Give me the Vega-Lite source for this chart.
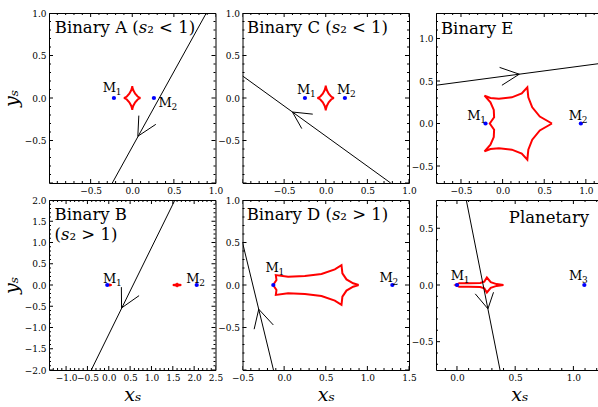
{
"$schema":"https://vega.github.io/schema/vega-lite/v6.json",
"padding":{"left":1,"top":8,"right":0,"bottom":0},
"background":"white",
"datasets":{"d":[
{"p":"A","k":"l","g":0,"o":0,"x":-0.24,"y":-1},{"p":"A","k":"l","g":0,"o":1,"x":0.89,"y":1},
{"p":"A","k":"l","g":1,"o":0,"x":0.079,"y":-0.207},{"p":"A","k":"l","g":1,"o":1,"x":0.067,"y":-0.45},{"p":"A","k":"l","g":1,"o":2,"x":0.283,"y":-0.31},
{"p":"A","k":"c","g":2,"o":0,"x":0.1,"y":0},{"p":"A","k":"c","g":2,"o":1,"x":0.09,"y":0.0024},{"p":"A","k":"c","g":2,"o":2,"x":0.065,"y":0.0175},{"p":"A","k":"c","g":2,"o":3,"x":0.0354,"y":0.0496},{"p":"A","k":"c","g":2,"o":4,"x":0.0125,"y":0.091},{"p":"A","k":"c","g":2,"o":5,"x":0.0017,"y":0.126},{"p":"A","k":"c","g":2,"o":6,"x":0,"y":0.14},{"p":"A","k":"c","g":2,"o":7,"x":-0.0017,"y":0.126},{"p":"A","k":"c","g":2,"o":8,"x":-0.0125,"y":0.091},{"p":"A","k":"c","g":2,"o":9,"x":-0.0354,"y":0.0496},{"p":"A","k":"c","g":2,"o":10,"x":-0.065,"y":0.0175},{"p":"A","k":"c","g":2,"o":11,"x":-0.09,"y":0.0024},{"p":"A","k":"c","g":2,"o":12,"x":-0.1,"y":0},{"p":"A","k":"c","g":2,"o":13,"x":-0.09,"y":-0.0024},{"p":"A","k":"c","g":2,"o":14,"x":-0.065,"y":-0.0175},{"p":"A","k":"c","g":2,"o":15,"x":-0.0354,"y":-0.0496},{"p":"A","k":"c","g":2,"o":16,"x":-0.0125,"y":-0.091},{"p":"A","k":"c","g":2,"o":17,"x":-0.0017,"y":-0.126},{"p":"A","k":"c","g":2,"o":18,"x":0,"y":-0.14},{"p":"A","k":"c","g":2,"o":19,"x":0.0017,"y":-0.126},{"p":"A","k":"c","g":2,"o":20,"x":0.0125,"y":-0.091},{"p":"A","k":"c","g":2,"o":21,"x":0.0354,"y":-0.0496},{"p":"A","k":"c","g":2,"o":22,"x":0.065,"y":-0.0175},{"p":"A","k":"c","g":2,"o":23,"x":0.09,"y":-0.0024},{"p":"A","k":"c","g":2,"o":24,"x":0.1,"y":0},
{"p":"A","k":"m","x":-0.22,"y":0},{"p":"A","k":"m","x":0.26,"y":0},
{"p":"A","k":"t","x":-0.354,"y":0.065,"t":"M","n":"1"},{"p":"A","k":"t","x":0.316,"y":-0.1,"t":"M","n":"2"},
{"p":"A","k":"h","x":-0.93,"y":0.76,"t":"Binary A (𝑠₂ < 1)"},

{"p":"C","k":"l","g":0,"o":0,"x":-1,"y":0.26},{"p":"C","k":"l","g":0,"o":1,"x":0.78,"y":-1},
{"p":"C","k":"l","g":1,"o":0,"x":-0.156,"y":-0.19},{"p":"C","k":"l","g":1,"o":1,"x":-0.4,"y":-0.165},{"p":"C","k":"l","g":1,"o":2,"x":-0.288,"y":-0.36},
{"p":"C","k":"c","g":2,"o":0,"x":0.1,"y":0},{"p":"C","k":"c","g":2,"o":1,"x":0.09,"y":0.0025},{"p":"C","k":"c","g":2,"o":2,"x":0.065,"y":0.018},{"p":"C","k":"c","g":2,"o":3,"x":0.0354,"y":0.0513},{"p":"C","k":"c","g":2,"o":4,"x":0.0125,"y":0.094},{"p":"C","k":"c","g":2,"o":5,"x":0.0017,"y":0.131},{"p":"C","k":"c","g":2,"o":6,"x":0,"y":0.145},{"p":"C","k":"c","g":2,"o":7,"x":-0.0017,"y":0.131},{"p":"C","k":"c","g":2,"o":8,"x":-0.0125,"y":0.094},{"p":"C","k":"c","g":2,"o":9,"x":-0.0354,"y":0.0513},{"p":"C","k":"c","g":2,"o":10,"x":-0.065,"y":0.018},{"p":"C","k":"c","g":2,"o":11,"x":-0.09,"y":0.0025},{"p":"C","k":"c","g":2,"o":12,"x":-0.1,"y":0},{"p":"C","k":"c","g":2,"o":13,"x":-0.09,"y":-0.0025},{"p":"C","k":"c","g":2,"o":14,"x":-0.065,"y":-0.018},{"p":"C","k":"c","g":2,"o":15,"x":-0.0354,"y":-0.0513},{"p":"C","k":"c","g":2,"o":16,"x":-0.0125,"y":-0.094},{"p":"C","k":"c","g":2,"o":17,"x":-0.0017,"y":-0.131},{"p":"C","k":"c","g":2,"o":18,"x":0,"y":-0.145},{"p":"C","k":"c","g":2,"o":19,"x":0.0017,"y":-0.131},{"p":"C","k":"c","g":2,"o":20,"x":0.0125,"y":-0.094},{"p":"C","k":"c","g":2,"o":21,"x":0.0354,"y":-0.0513},{"p":"C","k":"c","g":2,"o":22,"x":0.065,"y":-0.018},{"p":"C","k":"c","g":2,"o":23,"x":0.09,"y":-0.0025},{"p":"C","k":"c","g":2,"o":24,"x":0.1,"y":0},
{"p":"C","k":"m","x":-0.25,"y":0},{"p":"C","k":"m","x":0.23,"y":0},
{"p":"C","k":"t","x":-0.344,"y":0.05,"t":"M","n":"1"},{"p":"C","k":"t","x":0.136,"y":0.05,"t":"M","n":"2"},
{"p":"C","k":"h","x":-0.945,"y":0.76,"t":"Binary C (𝑠₂ < 1)"},

{"p":"E","k":"l","g":0,"o":0,"x":-0.8,"y":0.45},{"p":"E","k":"l","g":0,"o":1,"x":1.2,"y":0.71},
{"p":"E","k":"l","g":1,"o":0,"x":-0.036,"y":0.66},{"p":"E","k":"l","g":1,"o":1,"x":0.2,"y":0.58},{"p":"E","k":"l","g":1,"o":2,"x":-0.008,"y":0.45},
{"p":"E","k":"c","g":2,"o":0,"x":0.593,"y":0},{"p":"E","k":"c","g":2,"o":1,"x":0.447,"y":0.082},{"p":"E","k":"c","g":2,"o":2,"x":0.356,"y":0.191},{"p":"E","k":"c","g":2,"o":3,"x":0.309,"y":0.308},{"p":"E","k":"c","g":2,"o":4,"x":0.297,"y":0.426},{"p":"E","k":"c","g":2,"o":5,"x":0.23,"y":0.355},{"p":"E","k":"c","g":2,"o":6,"x":0.111,"y":0.308},{"p":"E","k":"c","g":2,"o":7,"x":-0.044,"y":0.29},{"p":"E","k":"c","g":2,"o":8,"x":-0.146,"y":0.3},{"p":"E","k":"c","g":2,"o":9,"x":-0.217,"y":0.328},{"p":"E","k":"c","g":2,"o":10,"x":-0.146,"y":0.25},{"p":"E","k":"c","g":2,"o":11,"x":-0.106,"y":0.16},{"p":"E","k":"c","g":2,"o":12,"x":-0.102,"y":0.074},{"p":"E","k":"c","g":2,"o":13,"x":-0.154,"y":0},{"p":"E","k":"c","g":2,"o":14,"x":-0.102,"y":-0.074},{"p":"E","k":"c","g":2,"o":15,"x":-0.106,"y":-0.16},{"p":"E","k":"c","g":2,"o":16,"x":-0.146,"y":-0.25},{"p":"E","k":"c","g":2,"o":17,"x":-0.217,"y":-0.328},{"p":"E","k":"c","g":2,"o":18,"x":-0.146,"y":-0.3},{"p":"E","k":"c","g":2,"o":19,"x":-0.044,"y":-0.29},{"p":"E","k":"c","g":2,"o":20,"x":0.111,"y":-0.308},{"p":"E","k":"c","g":2,"o":21,"x":0.23,"y":-0.355},{"p":"E","k":"c","g":2,"o":22,"x":0.297,"y":-0.426},{"p":"E","k":"c","g":2,"o":23,"x":0.309,"y":-0.308},{"p":"E","k":"c","g":2,"o":24,"x":0.356,"y":-0.191},{"p":"E","k":"c","g":2,"o":25,"x":0.447,"y":-0.082},{"p":"E","k":"c","g":2,"o":26,"x":0.593,"y":0},
{"p":"E","k":"m","x":-0.205,"y":0},{"p":"E","k":"m","x":0.94,"y":0},
{"p":"E","k":"t","x":-0.424,"y":0.043,"t":"M","n":"1"},{"p":"E","k":"t","x":0.796,"y":0.043,"t":"M","n":"2"},
{"p":"E","k":"h","x":-0.74,"y":1.05,"t":"Binary E"},

{"p":"B","k":"l","g":0,"o":0,"x":-0.41,"y":-2},{"p":"B","k":"l","g":0,"o":1,"x":1.55,"y":2},
{"p":"B","k":"l","g":1,"o":0,"x":0.295,"y":-0.05},{"p":"B","k":"l","g":1,"o":1,"x":0.3,"y":-0.54},{"p":"B","k":"l","g":1,"o":2,"x":0.71,"y":-0.25},
{"p":"B","k":"c","g":2,"o":0,"x":1.7,"y":0},{"p":"B","k":"c","g":2,"o":1,"x":1.665,"y":0.0038},{"p":"B","k":"c","g":2,"o":2,"x":1.6125,"y":0.0195},{"p":"B","k":"c","g":2,"o":3,"x":1.6,"y":0.03},{"p":"B","k":"c","g":2,"o":4,"x":1.5875,"y":0.0195},{"p":"B","k":"c","g":2,"o":5,"x":1.535,"y":0.0038},{"p":"B","k":"c","g":2,"o":6,"x":1.5,"y":0},{"p":"B","k":"c","g":2,"o":7,"x":1.535,"y":-0.0038},{"p":"B","k":"c","g":2,"o":8,"x":1.5875,"y":-0.0195},{"p":"B","k":"c","g":2,"o":9,"x":1.6,"y":-0.03},{"p":"B","k":"c","g":2,"o":10,"x":1.6125,"y":-0.0195},{"p":"B","k":"c","g":2,"o":11,"x":1.665,"y":-0.0038},{"p":"B","k":"c","g":2,"o":12,"x":1.7,"y":0},
{"p":"B","k":"c","g":3,"o":0,"x":0.07,"y":0},{"p":"B","k":"c","g":3,"o":1,"x":0.051,"y":0.0015},{"p":"B","k":"c","g":3,"o":2,"x":0.03,"y":0.0078},{"p":"B","k":"c","g":3,"o":3,"x":0.025,"y":0.012},{"p":"B","k":"c","g":3,"o":4,"x":0.02,"y":0.0078},{"p":"B","k":"c","g":3,"o":5,"x":-0.001,"y":0.0015},{"p":"B","k":"c","g":3,"o":6,"x":-0.02,"y":0},{"p":"B","k":"c","g":3,"o":7,"x":-0.001,"y":-0.0015},{"p":"B","k":"c","g":3,"o":8,"x":0.02,"y":-0.0078},{"p":"B","k":"c","g":3,"o":9,"x":0.025,"y":-0.012},{"p":"B","k":"c","g":3,"o":10,"x":0.03,"y":-0.0078},{"p":"B","k":"c","g":3,"o":11,"x":0.051,"y":-0.0015},{"p":"B","k":"c","g":3,"o":12,"x":0.07,"y":0},
{"p":"B","k":"m","x":-0.035,"y":0},{"p":"B","k":"m","x":2.06,"y":0},
{"p":"B","k":"t","x":-0.137,"y":0.05,"t":"M","n":"1"},{"p":"B","k":"t","x":1.813,"y":0.05,"t":"M","n":"2"},
{"p":"B","k":"h","x":-1.27,"y":1.52,"t":"Binary B"},{"p":"B","k":"h","x":-1.27,"y":1.05,"t":"(𝑠₂ > 1)"},

{"p":"D","k":"l","g":0,"o":0,"x":-0.5,"y":0.5},{"p":"D","k":"l","g":0,"o":1,"x":-0.128,"y":-1},
{"p":"D","k":"l","g":1,"o":0,"x":-0.36,"y":-0.52},{"p":"D","k":"l","g":1,"o":1,"x":-0.305,"y":-0.285},{"p":"D","k":"l","g":1,"o":2,"x":-0.13,"y":-0.47},
{"p":"D","k":"c","g":2,"o":0,"x":0.896,"y":0},{"p":"D","k":"c","g":2,"o":1,"x":0.829,"y":0.02},{"p":"D","k":"c","g":2,"o":2,"x":0.749,"y":0.066},{"p":"D","k":"c","g":2,"o":3,"x":0.7,"y":0.137},{"p":"D","k":"c","g":2,"o":4,"x":0.689,"y":0.234},{"p":"D","k":"c","g":2,"o":5,"x":0.609,"y":0.184},{"p":"D","k":"c","g":2,"o":6,"x":0.449,"y":0.129},{"p":"D","k":"c","g":2,"o":7,"x":0.249,"y":0.105},{"p":"D","k":"c","g":2,"o":8,"x":0.048,"y":0.098},{"p":"D","k":"c","g":2,"o":9,"x":-0.1,"y":0.117},{"p":"D","k":"c","g":2,"o":10,"x":-0.092,"y":0.059},{"p":"D","k":"c","g":2,"o":11,"x":-0.132,"y":0},{"p":"D","k":"c","g":2,"o":12,"x":-0.092,"y":-0.059},{"p":"D","k":"c","g":2,"o":13,"x":-0.1,"y":-0.117},{"p":"D","k":"c","g":2,"o":14,"x":0.048,"y":-0.098},{"p":"D","k":"c","g":2,"o":15,"x":0.249,"y":-0.105},{"p":"D","k":"c","g":2,"o":16,"x":0.449,"y":-0.129},{"p":"D","k":"c","g":2,"o":17,"x":0.609,"y":-0.184},{"p":"D","k":"c","g":2,"o":18,"x":0.689,"y":-0.234},{"p":"D","k":"c","g":2,"o":19,"x":0.7,"y":-0.137},{"p":"D","k":"c","g":2,"o":20,"x":0.749,"y":-0.066},{"p":"D","k":"c","g":2,"o":21,"x":0.829,"y":-0.02},{"p":"D","k":"c","g":2,"o":22,"x":0.896,"y":0},
{"p":"D","k":"m","x":-0.13,"y":0},{"p":"D","k":"m","x":1.3,"y":0},
{"p":"D","k":"t","x":-0.224,"y":0.148,"t":"M","n":"1"},{"p":"D","k":"t","x":1.146,"y":0.04,"t":"M","n":"2"},
{"p":"D","k":"h","x":-0.45,"y":0.76,"t":"Binary D (𝑠₂ > 1)"},

{"p":"P","k":"l","g":0,"o":0,"x":0.08,"y":0.75},{"p":"P","k":"l","g":0,"o":1,"x":0.37,"y":-0.75},
{"p":"P","k":"l","g":1,"o":0,"x":0.157,"y":-0.078},{"p":"P","k":"l","g":1,"o":1,"x":0.266,"y":-0.21},{"p":"P","k":"l","g":1,"o":2,"x":0.314,"y":-0.064},
{"p":"P","k":"c","g":2,"o":0,"x":0.4,"y":0},{"p":"P","k":"c","g":2,"o":1,"x":0.34,"y":0.008},{"p":"P","k":"c","g":2,"o":2,"x":0.29,"y":0.025},{"p":"P","k":"c","g":2,"o":3,"x":0.257,"y":0.066},{"p":"P","k":"c","g":2,"o":4,"x":0.235,"y":0.03},{"p":"P","k":"c","g":2,"o":5,"x":0.2,"y":0.018},{"p":"P","k":"c","g":2,"o":6,"x":0.1,"y":0.016},{"p":"P","k":"c","g":2,"o":7,"x":0.02,"y":0.016},{"p":"P","k":"c","g":2,"o":8,"x":-0.012,"y":0},{"p":"P","k":"c","g":2,"o":9,"x":0.02,"y":-0.016},{"p":"P","k":"c","g":2,"o":10,"x":0.1,"y":-0.016},{"p":"P","k":"c","g":2,"o":11,"x":0.2,"y":-0.018},{"p":"P","k":"c","g":2,"o":12,"x":0.235,"y":-0.03},{"p":"P","k":"c","g":2,"o":13,"x":0.257,"y":-0.066},{"p":"P","k":"c","g":2,"o":14,"x":0.29,"y":-0.025},{"p":"P","k":"c","g":2,"o":15,"x":0.34,"y":-0.008},{"p":"P","k":"c","g":2,"o":16,"x":0.4,"y":0},
{"p":"P","k":"m","x":0,"y":0},{"p":"P","k":"m","x":1.094,"y":0},
{"p":"P","k":"t","x":-0.054,"y":0.043,"t":"M","n":"1"},{"p":"P","k":"t","x":0.963,"y":0.043,"t":"M","n":"3"},
{"p":"P","k":"h","x":1.135,"y":0.55,"t":"Planetary"}
],
"t":[
{"s":"s1","v":-1},{"s":"s1","v":-0.9},{"s":"s1","v":-0.8},{"s":"s1","v":-0.7},{"s":"s1","v":-0.6},{"s":"s1","v":-0.5},{"s":"s1","v":-0.4},{"s":"s1","v":-0.3},{"s":"s1","v":-0.2},{"s":"s1","v":-0.1},{"s":"s1","v":0},{"s":"s1","v":0.1},{"s":"s1","v":0.2},{"s":"s1","v":0.3},{"s":"s1","v":0.4},{"s":"s1","v":0.5},{"s":"s1","v":0.6},{"s":"s1","v":0.7},{"s":"s1","v":0.8},{"s":"s1","v":0.9},{"s":"s1","v":1},
{"s":"s2","v":-0.8},{"s":"s2","v":-0.7},{"s":"s2","v":-0.6},{"s":"s2","v":-0.5},{"s":"s2","v":-0.4},{"s":"s2","v":-0.3},{"s":"s2","v":-0.2},{"s":"s2","v":-0.1},{"s":"s2","v":0},{"s":"s2","v":0.1},{"s":"s2","v":0.2},{"s":"s2","v":0.3},{"s":"s2","v":0.4},{"s":"s2","v":0.5},{"s":"s2","v":0.6},{"s":"s2","v":0.7},{"s":"s2","v":0.8},{"s":"s2","v":0.9},{"s":"s2","v":1},{"s":"s2","v":1.1},{"s":"s2","v":1.2},
{"s":"s3","v":-0.7},{"s":"s3","v":-0.6},{"s":"s3","v":-0.5},{"s":"s3","v":-0.4},{"s":"s3","v":-0.3},{"s":"s3","v":-0.2},{"s":"s3","v":-0.1},{"s":"s3","v":0},{"s":"s3","v":0.1},{"s":"s3","v":0.2},{"s":"s3","v":0.3},{"s":"s3","v":0.4},{"s":"s3","v":0.5},{"s":"s3","v":0.6},{"s":"s3","v":0.7},{"s":"s3","v":0.8},{"s":"s3","v":0.9},{"s":"s3","v":1},{"s":"s3","v":1.1},{"s":"s3","v":1.2},{"s":"s3","v":1.3},
{"s":"s4","v":-1.4},{"s":"s4","v":-1.3},{"s":"s4","v":-1.2},{"s":"s4","v":-1.1},{"s":"s4","v":-1},{"s":"s4","v":-0.9},{"s":"s4","v":-0.8},{"s":"s4","v":-0.7},{"s":"s4","v":-0.6},{"s":"s4","v":-0.5},{"s":"s4","v":-0.4},{"s":"s4","v":-0.3},{"s":"s4","v":-0.2},{"s":"s4","v":-0.1},{"s":"s4","v":0},{"s":"s4","v":0.1},{"s":"s4","v":0.2},{"s":"s4","v":0.3},{"s":"s4","v":0.4},{"s":"s4","v":0.5},{"s":"s4","v":0.6},{"s":"s4","v":0.7},{"s":"s4","v":0.8},{"s":"s4","v":0.9},{"s":"s4","v":1},{"s":"s4","v":1.1},{"s":"s4","v":1.2},{"s":"s4","v":1.3},{"s":"s4","v":1.4},{"s":"s4","v":1.5},{"s":"s4","v":1.6},{"s":"s4","v":1.7},{"s":"s4","v":1.8},{"s":"s4","v":1.9},{"s":"s4","v":2},{"s":"s4","v":2.1},{"s":"s4","v":2.2},{"s":"s4","v":2.3},{"s":"s4","v":2.4},{"s":"s4","v":2.5},
{"s":"s5","v":-2},{"s":"s5","v":-1.9},{"s":"s5","v":-1.8},{"s":"s5","v":-1.7},{"s":"s5","v":-1.6},{"s":"s5","v":-1.5},{"s":"s5","v":-1.4},{"s":"s5","v":-1.3},{"s":"s5","v":-1.2},{"s":"s5","v":-1.1},{"s":"s5","v":-1},{"s":"s5","v":-0.9},{"s":"s5","v":-0.8},{"s":"s5","v":-0.7},{"s":"s5","v":-0.6},{"s":"s5","v":-0.5},{"s":"s5","v":-0.4},{"s":"s5","v":-0.3},{"s":"s5","v":-0.2},{"s":"s5","v":-0.1},{"s":"s5","v":0},{"s":"s5","v":0.1},{"s":"s5","v":0.2},{"s":"s5","v":0.3},{"s":"s5","v":0.4},{"s":"s5","v":0.5},{"s":"s5","v":0.6},{"s":"s5","v":0.7},{"s":"s5","v":0.8},{"s":"s5","v":0.9},{"s":"s5","v":1},{"s":"s5","v":1.1},{"s":"s5","v":1.2},{"s":"s5","v":1.3},{"s":"s5","v":1.4},{"s":"s5","v":1.5},{"s":"s5","v":1.6},{"s":"s5","v":1.7},{"s":"s5","v":1.8},{"s":"s5","v":1.9},{"s":"s5","v":2},
{"s":"s6","v":-0.5},{"s":"s6","v":-0.4},{"s":"s6","v":-0.3},{"s":"s6","v":-0.2},{"s":"s6","v":-0.1},{"s":"s6","v":0},{"s":"s6","v":0.1},{"s":"s6","v":0.2},{"s":"s6","v":0.3},{"s":"s6","v":0.4},{"s":"s6","v":0.5},{"s":"s6","v":0.6},{"s":"s6","v":0.7},{"s":"s6","v":0.8},{"s":"s6","v":0.9},{"s":"s6","v":1},{"s":"s6","v":1.1},{"s":"s6","v":1.2},{"s":"s6","v":1.3},{"s":"s6","v":1.4},{"s":"s6","v":1.5},
{"s":"s7","v":-0.1},{"s":"s7","v":0},{"s":"s7","v":0.1},{"s":"s7","v":0.2},{"s":"s7","v":0.3},{"s":"s7","v":0.4},{"s":"s7","v":0.5},{"s":"s7","v":0.6},{"s":"s7","v":0.7},{"s":"s7","v":0.8},{"s":"s7","v":0.9},{"s":"s7","v":1},{"s":"s7","v":1.1},{"s":"s7","v":1.2},
{"s":"s8","v":-0.7},{"s":"s8","v":-0.6},{"s":"s8","v":-0.5},{"s":"s8","v":-0.4},{"s":"s8","v":-0.3},{"s":"s8","v":-0.2},{"s":"s8","v":-0.1},{"s":"s8","v":0},{"s":"s8","v":0.1},{"s":"s8","v":0.2},{"s":"s8","v":0.3},{"s":"s8","v":0.4},{"s":"s8","v":0.5},{"s":"s8","v":0.6},{"s":"s8","v":0.7}
]},
"data":{"name":"d"},
"columns":3,
"spacing":{"row":17,"column":26.5},
"bounds":"flush",
"concat":[
{"width":166.5,"height":170,"resolve":{"axis":{"x":"independent","y":"independent"}},
"layer":[
{"transform":[{"filter":"datum.p=='A'&&datum.k=='c'"}],"mark":{"type":"line","color":"#ff0000","strokeWidth":2,"clip":true},
"encoding":{"x":{"field":"x","type":"quantitative","scale":{"domain":[-1,1],"nice":false,"zero":false},"axis":{"orient":"bottom","title":null,"values":[-1,-0.5,0,0.5,1],"labelExpr":"datum.value>-0.99?format(datum.value,'.1f'):''"}},
"y":{"field":"y","type":"quantitative","scale":{"domain":[-1,1],"nice":false,"zero":false},"axis":{"orient":"left","title":"yₛ","values":[-1,-0.5,0,0.5,1],"labelExpr":"datum.value>-0.99?format(datum.value,'.1f'):''"}},
"detail":{"field":"g"},"order":{"field":"o","type":"quantitative"}}},
{"transform":[{"filter":"datum.p=='A'&&datum.k=='l'"}],"mark":{"type":"line","color":"black","strokeWidth":1,"clip":true},
"encoding":{"x":{"field":"x","type":"quantitative","scale":{"domain":[-1,1],"nice":false,"zero":false},"axis":null},"y":{"field":"y","type":"quantitative","scale":{"domain":[-1,1],"nice":false,"zero":false},"axis":null},"detail":{"field":"g"},"order":{"field":"o","type":"quantitative"}}},
{"transform":[{"filter":"datum.p=='A'&&datum.k=='m'"}],"mark":{"type":"circle","color":"#0000ff","size":18,"opacity":1},
"encoding":{"x":{"field":"x","type":"quantitative","scale":{"domain":[-1,1],"nice":false,"zero":false},"axis":null},"y":{"field":"y","type":"quantitative","scale":{"domain":[-1,1],"nice":false,"zero":false},"axis":null}}},
{"transform":[{"filter":"datum.p=='A'&&datum.k=='t'"}],"mark":{"type":"text","font":"DejaVu Serif","fontSize":13,"align":"left","baseline":"alphabetic","color":"black"},
"encoding":{"x":{"field":"x","type":"quantitative","scale":{"domain":[-1,1],"nice":false,"zero":false},"axis":null},"y":{"field":"y","type":"quantitative","scale":{"domain":[-1,1],"nice":false,"zero":false},"axis":null},"text":{"field":"t"}}},
{"transform":[{"filter":"datum.p=='A'&&datum.k=='t'"}],"mark":{"type":"text","font":"DejaVu Serif","fontSize":9,"align":"left","baseline":"alphabetic","color":"black","dx":13,"dy":3},
"encoding":{"x":{"field":"x","type":"quantitative","scale":{"domain":[-1,1],"nice":false,"zero":false},"axis":null},"y":{"field":"y","type":"quantitative","scale":{"domain":[-1,1],"nice":false,"zero":false},"axis":null},"text":{"field":"n"}}},
{"transform":[{"filter":"datum.p=='A'&&datum.k=='h'"}],"mark":{"type":"text","font":"DejaVu Serif","fontSize":16.5,"align":"left","baseline":"alphabetic","color":"black"},
"encoding":{"x":{"field":"x","type":"quantitative","scale":{"domain":[-1,1],"nice":false,"zero":false},"axis":null},"y":{"field":"y","type":"quantitative","scale":{"domain":[-1,1],"nice":false,"zero":false},"axis":null},"text":{"field":"t"}}},
{"data":{"name":"t"},"transform":[{"filter":"datum.s=='s1'"}],"mark":{"type":"tick","orient":"vertical","color":"black","thickness":1,"opacity":1,"clip":true},
"encoding":{"x":{"field":"v","type":"quantitative","scale":{"domain":[-1,1],"nice":false,"zero":false},"axis":null},"y":{"datum":-1,"type":"quantitative","scale":{"domain":[-1,1],"nice":false,"zero":false},"axis":null},"size":{"condition":{"test":"abs(datum.v*2-round(datum.v*2))<0.001","value":8},"value":4}}},
{"data":{"name":"t"},"transform":[{"filter":"datum.s=='s1'"}],"mark":{"type":"tick","orient":"vertical","color":"black","thickness":1,"opacity":1,"clip":true},
"encoding":{"x":{"field":"v","type":"quantitative","scale":{"domain":[-1,1],"nice":false,"zero":false},"axis":null},"y":{"datum":1,"type":"quantitative","scale":{"domain":[-1,1],"nice":false,"zero":false},"axis":null},"size":{"condition":{"test":"abs(datum.v*2-round(datum.v*2))<0.001","value":8},"value":4}}},
{"data":{"name":"t"},"transform":[{"filter":"datum.s=='s1'"}],"mark":{"type":"tick","orient":"horizontal","color":"black","thickness":1,"opacity":1,"clip":true},
"encoding":{"y":{"field":"v","type":"quantitative","scale":{"domain":[-1,1],"nice":false,"zero":false},"axis":null},"x":{"datum":-1,"type":"quantitative","scale":{"domain":[-1,1],"nice":false,"zero":false},"axis":null},"size":{"condition":{"test":"abs(datum.v*2-round(datum.v*2))<0.001","value":8},"value":4}}},
{"data":{"name":"t"},"transform":[{"filter":"datum.s=='s1'"}],"mark":{"type":"tick","orient":"horizontal","color":"black","thickness":1,"opacity":1,"clip":true},
"encoding":{"y":{"field":"v","type":"quantitative","scale":{"domain":[-1,1],"nice":false,"zero":false},"axis":null},"x":{"datum":1,"type":"quantitative","scale":{"domain":[-1,1],"nice":false,"zero":false},"axis":null},"size":{"condition":{"test":"abs(datum.v*2-round(datum.v*2))<0.001","value":8},"value":4}}}
]},
{"width":166.5,"height":170,"resolve":{"axis":{"x":"independent","y":"independent"}},
"layer":[
{"transform":[{"filter":"datum.p=='C'&&datum.k=='c'"}],"mark":{"type":"line","color":"#ff0000","strokeWidth":2,"clip":true},
"encoding":{"x":{"field":"x","type":"quantitative","scale":{"domain":[-1,1],"nice":false,"zero":false},"axis":{"orient":"bottom","title":null,"values":[-1,-0.5,0,0.5,1],"labelExpr":"datum.value>-0.99?format(datum.value,'.1f'):''"}},
"y":{"field":"y","type":"quantitative","scale":{"domain":[-1,1],"nice":false,"zero":false},"axis":{"orient":"left","title":null,"values":[-1,-0.5,0,0.5,1],"labelExpr":"datum.value>-0.99?format(datum.value,'.1f'):''"}},
"detail":{"field":"g"},"order":{"field":"o","type":"quantitative"}}},
{"transform":[{"filter":"datum.p=='C'&&datum.k=='l'"}],"mark":{"type":"line","color":"black","strokeWidth":1,"clip":true},
"encoding":{"x":{"field":"x","type":"quantitative","scale":{"domain":[-1,1],"nice":false,"zero":false},"axis":null},"y":{"field":"y","type":"quantitative","scale":{"domain":[-1,1],"nice":false,"zero":false},"axis":null},"detail":{"field":"g"},"order":{"field":"o","type":"quantitative"}}},
{"transform":[{"filter":"datum.p=='C'&&datum.k=='m'"}],"mark":{"type":"circle","color":"#0000ff","size":18,"opacity":1},
"encoding":{"x":{"field":"x","type":"quantitative","scale":{"domain":[-1,1],"nice":false,"zero":false},"axis":null},"y":{"field":"y","type":"quantitative","scale":{"domain":[-1,1],"nice":false,"zero":false},"axis":null}}},
{"transform":[{"filter":"datum.p=='C'&&datum.k=='t'"}],"mark":{"type":"text","font":"DejaVu Serif","fontSize":13,"align":"left","baseline":"alphabetic","color":"black"},
"encoding":{"x":{"field":"x","type":"quantitative","scale":{"domain":[-1,1],"nice":false,"zero":false},"axis":null},"y":{"field":"y","type":"quantitative","scale":{"domain":[-1,1],"nice":false,"zero":false},"axis":null},"text":{"field":"t"}}},
{"transform":[{"filter":"datum.p=='C'&&datum.k=='t'"}],"mark":{"type":"text","font":"DejaVu Serif","fontSize":9,"align":"left","baseline":"alphabetic","color":"black","dx":13,"dy":3},
"encoding":{"x":{"field":"x","type":"quantitative","scale":{"domain":[-1,1],"nice":false,"zero":false},"axis":null},"y":{"field":"y","type":"quantitative","scale":{"domain":[-1,1],"nice":false,"zero":false},"axis":null},"text":{"field":"n"}}},
{"transform":[{"filter":"datum.p=='C'&&datum.k=='h'"}],"mark":{"type":"text","font":"DejaVu Serif","fontSize":16.5,"align":"left","baseline":"alphabetic","color":"black"},
"encoding":{"x":{"field":"x","type":"quantitative","scale":{"domain":[-1,1],"nice":false,"zero":false},"axis":null},"y":{"field":"y","type":"quantitative","scale":{"domain":[-1,1],"nice":false,"zero":false},"axis":null},"text":{"field":"t"}}},
{"data":{"name":"t"},"transform":[{"filter":"datum.s=='s1'"}],"mark":{"type":"tick","orient":"vertical","color":"black","thickness":1,"opacity":1,"clip":true},
"encoding":{"x":{"field":"v","type":"quantitative","scale":{"domain":[-1,1],"nice":false,"zero":false},"axis":null},"y":{"datum":-1,"type":"quantitative","scale":{"domain":[-1,1],"nice":false,"zero":false},"axis":null},"size":{"condition":{"test":"abs(datum.v*2-round(datum.v*2))<0.001","value":8},"value":4}}},
{"data":{"name":"t"},"transform":[{"filter":"datum.s=='s1'"}],"mark":{"type":"tick","orient":"vertical","color":"black","thickness":1,"opacity":1,"clip":true},
"encoding":{"x":{"field":"v","type":"quantitative","scale":{"domain":[-1,1],"nice":false,"zero":false},"axis":null},"y":{"datum":1,"type":"quantitative","scale":{"domain":[-1,1],"nice":false,"zero":false},"axis":null},"size":{"condition":{"test":"abs(datum.v*2-round(datum.v*2))<0.001","value":8},"value":4}}},
{"data":{"name":"t"},"transform":[{"filter":"datum.s=='s1'"}],"mark":{"type":"tick","orient":"horizontal","color":"black","thickness":1,"opacity":1,"clip":true},
"encoding":{"y":{"field":"v","type":"quantitative","scale":{"domain":[-1,1],"nice":false,"zero":false},"axis":null},"x":{"datum":-1,"type":"quantitative","scale":{"domain":[-1,1],"nice":false,"zero":false},"axis":null},"size":{"condition":{"test":"abs(datum.v*2-round(datum.v*2))<0.001","value":8},"value":4}}},
{"data":{"name":"t"},"transform":[{"filter":"datum.s=='s1'"}],"mark":{"type":"tick","orient":"horizontal","color":"black","thickness":1,"opacity":1,"clip":true},
"encoding":{"y":{"field":"v","type":"quantitative","scale":{"domain":[-1,1],"nice":false,"zero":false},"axis":null},"x":{"datum":1,"type":"quantitative","scale":{"domain":[-1,1],"nice":false,"zero":false},"axis":null},"size":{"condition":{"test":"abs(datum.v*2-round(datum.v*2))<0.001","value":8},"value":4}}}
]},
{"width":166.5,"height":170,"resolve":{"axis":{"x":"independent","y":"independent"}},
"layer":[
{"transform":[{"filter":"datum.p=='E'&&datum.k=='c'"}],"mark":{"type":"line","color":"#ff0000","strokeWidth":2,"clip":true},
"encoding":{"x":{"field":"x","type":"quantitative","scale":{"domain":[-0.8,1.2],"nice":false,"zero":false},"axis":{"orient":"bottom","title":null,"values":[-0.5,0,0.5,1],"format":".1f"}},
"y":{"field":"y","type":"quantitative","scale":{"domain":[-0.7,1.3],"nice":false,"zero":false},"axis":{"orient":"left","title":null,"values":[-0.5,0,0.5,1],"format":".1f"}},
"detail":{"field":"g"},"order":{"field":"o","type":"quantitative"}}},
{"transform":[{"filter":"datum.p=='E'&&datum.k=='l'"}],"mark":{"type":"line","color":"black","strokeWidth":1,"clip":true},
"encoding":{"x":{"field":"x","type":"quantitative","scale":{"domain":[-0.8,1.2],"nice":false,"zero":false},"axis":null},"y":{"field":"y","type":"quantitative","scale":{"domain":[-0.7,1.3],"nice":false,"zero":false},"axis":null},"detail":{"field":"g"},"order":{"field":"o","type":"quantitative"}}},
{"transform":[{"filter":"datum.p=='E'&&datum.k=='m'"}],"mark":{"type":"circle","color":"#0000ff","size":18,"opacity":1},
"encoding":{"x":{"field":"x","type":"quantitative","scale":{"domain":[-0.8,1.2],"nice":false,"zero":false},"axis":null},"y":{"field":"y","type":"quantitative","scale":{"domain":[-0.7,1.3],"nice":false,"zero":false},"axis":null}}},
{"transform":[{"filter":"datum.p=='E'&&datum.k=='t'"}],"mark":{"type":"text","font":"DejaVu Serif","fontSize":13,"align":"left","baseline":"alphabetic","color":"black"},
"encoding":{"x":{"field":"x","type":"quantitative","scale":{"domain":[-0.8,1.2],"nice":false,"zero":false},"axis":null},"y":{"field":"y","type":"quantitative","scale":{"domain":[-0.7,1.3],"nice":false,"zero":false},"axis":null},"text":{"field":"t"}}},
{"transform":[{"filter":"datum.p=='E'&&datum.k=='t'"}],"mark":{"type":"text","font":"DejaVu Serif","fontSize":9,"align":"left","baseline":"alphabetic","color":"black","dx":13,"dy":3},
"encoding":{"x":{"field":"x","type":"quantitative","scale":{"domain":[-0.8,1.2],"nice":false,"zero":false},"axis":null},"y":{"field":"y","type":"quantitative","scale":{"domain":[-0.7,1.3],"nice":false,"zero":false},"axis":null},"text":{"field":"n"}}},
{"transform":[{"filter":"datum.p=='E'&&datum.k=='h'"}],"mark":{"type":"text","font":"DejaVu Serif","fontSize":16.5,"align":"left","baseline":"alphabetic","color":"black"},
"encoding":{"x":{"field":"x","type":"quantitative","scale":{"domain":[-0.8,1.2],"nice":false,"zero":false},"axis":null},"y":{"field":"y","type":"quantitative","scale":{"domain":[-0.7,1.3],"nice":false,"zero":false},"axis":null},"text":{"field":"t"}}},
{"data":{"name":"t"},"transform":[{"filter":"datum.s=='s2'"}],"mark":{"type":"tick","orient":"vertical","color":"black","thickness":1,"opacity":1,"clip":true},
"encoding":{"x":{"field":"v","type":"quantitative","scale":{"domain":[-0.8,1.2],"nice":false,"zero":false},"axis":null},"y":{"datum":-0.7,"type":"quantitative","scale":{"domain":[-0.7,1.3],"nice":false,"zero":false},"axis":null},"size":{"condition":{"test":"abs(datum.v*2-round(datum.v*2))<0.001","value":8},"value":4}}},
{"data":{"name":"t"},"transform":[{"filter":"datum.s=='s2'"}],"mark":{"type":"tick","orient":"vertical","color":"black","thickness":1,"opacity":1,"clip":true},
"encoding":{"x":{"field":"v","type":"quantitative","scale":{"domain":[-0.8,1.2],"nice":false,"zero":false},"axis":null},"y":{"datum":1.3,"type":"quantitative","scale":{"domain":[-0.7,1.3],"nice":false,"zero":false},"axis":null},"size":{"condition":{"test":"abs(datum.v*2-round(datum.v*2))<0.001","value":8},"value":4}}},
{"data":{"name":"t"},"transform":[{"filter":"datum.s=='s3'"}],"mark":{"type":"tick","orient":"horizontal","color":"black","thickness":1,"opacity":1,"clip":true},
"encoding":{"y":{"field":"v","type":"quantitative","scale":{"domain":[-0.7,1.3],"nice":false,"zero":false},"axis":null},"x":{"datum":-0.8,"type":"quantitative","scale":{"domain":[-0.8,1.2],"nice":false,"zero":false},"axis":null},"size":{"condition":{"test":"abs(datum.v*2-round(datum.v*2))<0.001","value":8},"value":4}}},
{"data":{"name":"t"},"transform":[{"filter":"datum.s=='s3'"}],"mark":{"type":"tick","orient":"horizontal","color":"black","thickness":1,"opacity":1,"clip":true},
"encoding":{"y":{"field":"v","type":"quantitative","scale":{"domain":[-0.7,1.3],"nice":false,"zero":false},"axis":null},"x":{"datum":1.2,"type":"quantitative","scale":{"domain":[-0.8,1.2],"nice":false,"zero":false},"axis":null},"size":{"condition":{"test":"abs(datum.v*2-round(datum.v*2))<0.001","value":8},"value":4}}}
]},
{"width":166.5,"height":170,"resolve":{"axis":{"x":"independent","y":"independent"}},
"layer":[
{"transform":[{"filter":"datum.p=='B'&&datum.k=='c'"}],"mark":{"type":"line","color":"#ff0000","strokeWidth":2,"clip":true},
"encoding":{"x":{"field":"x","type":"quantitative","scale":{"domain":[-1.4,2.5],"nice":false,"zero":false},"axis":{"orient":"bottom","title":"xₛ","values":[-1,-0.5,0,0.5,1,1.5,2,2.5],"format":".1f"}},
"y":{"field":"y","type":"quantitative","scale":{"domain":[-2,2],"nice":false,"zero":false},"axis":{"orient":"left","title":"yₛ","values":[-2,-1.5,-1,-0.5,0,0.5,1,1.5,2],"format":".1f"}},
"detail":{"field":"g"},"order":{"field":"o","type":"quantitative"}}},
{"transform":[{"filter":"datum.p=='B'&&datum.k=='l'"}],"mark":{"type":"line","color":"black","strokeWidth":1,"clip":true},
"encoding":{"x":{"field":"x","type":"quantitative","scale":{"domain":[-1.4,2.5],"nice":false,"zero":false},"axis":null},"y":{"field":"y","type":"quantitative","scale":{"domain":[-2,2],"nice":false,"zero":false},"axis":null},"detail":{"field":"g"},"order":{"field":"o","type":"quantitative"}}},
{"transform":[{"filter":"datum.p=='B'&&datum.k=='m'"}],"mark":{"type":"circle","color":"#0000ff","size":18,"opacity":1},
"encoding":{"x":{"field":"x","type":"quantitative","scale":{"domain":[-1.4,2.5],"nice":false,"zero":false},"axis":null},"y":{"field":"y","type":"quantitative","scale":{"domain":[-2,2],"nice":false,"zero":false},"axis":null}}},
{"transform":[{"filter":"datum.p=='B'&&datum.k=='t'"}],"mark":{"type":"text","font":"DejaVu Serif","fontSize":13,"align":"left","baseline":"alphabetic","color":"black"},
"encoding":{"x":{"field":"x","type":"quantitative","scale":{"domain":[-1.4,2.5],"nice":false,"zero":false},"axis":null},"y":{"field":"y","type":"quantitative","scale":{"domain":[-2,2],"nice":false,"zero":false},"axis":null},"text":{"field":"t"}}},
{"transform":[{"filter":"datum.p=='B'&&datum.k=='t'"}],"mark":{"type":"text","font":"DejaVu Serif","fontSize":9,"align":"left","baseline":"alphabetic","color":"black","dx":13,"dy":3},
"encoding":{"x":{"field":"x","type":"quantitative","scale":{"domain":[-1.4,2.5],"nice":false,"zero":false},"axis":null},"y":{"field":"y","type":"quantitative","scale":{"domain":[-2,2],"nice":false,"zero":false},"axis":null},"text":{"field":"n"}}},
{"transform":[{"filter":"datum.p=='B'&&datum.k=='h'"}],"mark":{"type":"text","font":"DejaVu Serif","fontSize":16.5,"align":"left","baseline":"alphabetic","color":"black"},
"encoding":{"x":{"field":"x","type":"quantitative","scale":{"domain":[-1.4,2.5],"nice":false,"zero":false},"axis":null},"y":{"field":"y","type":"quantitative","scale":{"domain":[-2,2],"nice":false,"zero":false},"axis":null},"text":{"field":"t"}}},
{"data":{"name":"t"},"transform":[{"filter":"datum.s=='s4'"}],"mark":{"type":"tick","orient":"vertical","color":"black","thickness":1,"opacity":1,"clip":true},
"encoding":{"x":{"field":"v","type":"quantitative","scale":{"domain":[-1.4,2.5],"nice":false,"zero":false},"axis":null},"y":{"datum":-2,"type":"quantitative","scale":{"domain":[-2,2],"nice":false,"zero":false},"axis":null},"size":{"condition":{"test":"abs(datum.v*2-round(datum.v*2))<0.001","value":8},"value":4}}},
{"data":{"name":"t"},"transform":[{"filter":"datum.s=='s4'"}],"mark":{"type":"tick","orient":"vertical","color":"black","thickness":1,"opacity":1,"clip":true},
"encoding":{"x":{"field":"v","type":"quantitative","scale":{"domain":[-1.4,2.5],"nice":false,"zero":false},"axis":null},"y":{"datum":2,"type":"quantitative","scale":{"domain":[-2,2],"nice":false,"zero":false},"axis":null},"size":{"condition":{"test":"abs(datum.v*2-round(datum.v*2))<0.001","value":8},"value":4}}},
{"data":{"name":"t"},"transform":[{"filter":"datum.s=='s5'"}],"mark":{"type":"tick","orient":"horizontal","color":"black","thickness":1,"opacity":1,"clip":true},
"encoding":{"y":{"field":"v","type":"quantitative","scale":{"domain":[-2,2],"nice":false,"zero":false},"axis":null},"x":{"datum":-1.4,"type":"quantitative","scale":{"domain":[-1.4,2.5],"nice":false,"zero":false},"axis":null},"size":{"condition":{"test":"abs(datum.v*2-round(datum.v*2))<0.001","value":8},"value":4}}},
{"data":{"name":"t"},"transform":[{"filter":"datum.s=='s5'"}],"mark":{"type":"tick","orient":"horizontal","color":"black","thickness":1,"opacity":1,"clip":true},
"encoding":{"y":{"field":"v","type":"quantitative","scale":{"domain":[-2,2],"nice":false,"zero":false},"axis":null},"x":{"datum":2.5,"type":"quantitative","scale":{"domain":[-1.4,2.5],"nice":false,"zero":false},"axis":null},"size":{"condition":{"test":"abs(datum.v*2-round(datum.v*2))<0.001","value":8},"value":4}}}
]},
{"width":166.5,"height":170,"resolve":{"axis":{"x":"independent","y":"independent"}},
"layer":[
{"transform":[{"filter":"datum.p=='D'&&datum.k=='c'"}],"mark":{"type":"line","color":"#ff0000","strokeWidth":2,"clip":true},
"encoding":{"x":{"field":"x","type":"quantitative","scale":{"domain":[-0.5,1.5],"nice":false,"zero":false},"axis":{"orient":"bottom","title":"xₛ","values":[-0.5,0,0.5,1,1.5],"format":".1f"}},
"y":{"field":"y","type":"quantitative","scale":{"domain":[-1,1],"nice":false,"zero":false},"axis":{"orient":"left","title":null,"values":[-1,-0.5,0,0.5,1],"labelExpr":"datum.value>-0.99?format(datum.value,'.1f'):''"}},
"detail":{"field":"g"},"order":{"field":"o","type":"quantitative"}}},
{"transform":[{"filter":"datum.p=='D'&&datum.k=='l'"}],"mark":{"type":"line","color":"black","strokeWidth":1,"clip":true},
"encoding":{"x":{"field":"x","type":"quantitative","scale":{"domain":[-0.5,1.5],"nice":false,"zero":false},"axis":null},"y":{"field":"y","type":"quantitative","scale":{"domain":[-1,1],"nice":false,"zero":false},"axis":null},"detail":{"field":"g"},"order":{"field":"o","type":"quantitative"}}},
{"transform":[{"filter":"datum.p=='D'&&datum.k=='m'"}],"mark":{"type":"circle","color":"#0000ff","size":18,"opacity":1},
"encoding":{"x":{"field":"x","type":"quantitative","scale":{"domain":[-0.5,1.5],"nice":false,"zero":false},"axis":null},"y":{"field":"y","type":"quantitative","scale":{"domain":[-1,1],"nice":false,"zero":false},"axis":null}}},
{"transform":[{"filter":"datum.p=='D'&&datum.k=='t'"}],"mark":{"type":"text","font":"DejaVu Serif","fontSize":13,"align":"left","baseline":"alphabetic","color":"black"},
"encoding":{"x":{"field":"x","type":"quantitative","scale":{"domain":[-0.5,1.5],"nice":false,"zero":false},"axis":null},"y":{"field":"y","type":"quantitative","scale":{"domain":[-1,1],"nice":false,"zero":false},"axis":null},"text":{"field":"t"}}},
{"transform":[{"filter":"datum.p=='D'&&datum.k=='t'"}],"mark":{"type":"text","font":"DejaVu Serif","fontSize":9,"align":"left","baseline":"alphabetic","color":"black","dx":13,"dy":3},
"encoding":{"x":{"field":"x","type":"quantitative","scale":{"domain":[-0.5,1.5],"nice":false,"zero":false},"axis":null},"y":{"field":"y","type":"quantitative","scale":{"domain":[-1,1],"nice":false,"zero":false},"axis":null},"text":{"field":"n"}}},
{"transform":[{"filter":"datum.p=='D'&&datum.k=='h'"}],"mark":{"type":"text","font":"DejaVu Serif","fontSize":16.5,"align":"left","baseline":"alphabetic","color":"black"},
"encoding":{"x":{"field":"x","type":"quantitative","scale":{"domain":[-0.5,1.5],"nice":false,"zero":false},"axis":null},"y":{"field":"y","type":"quantitative","scale":{"domain":[-1,1],"nice":false,"zero":false},"axis":null},"text":{"field":"t"}}},
{"data":{"name":"t"},"transform":[{"filter":"datum.s=='s6'"}],"mark":{"type":"tick","orient":"vertical","color":"black","thickness":1,"opacity":1,"clip":true},
"encoding":{"x":{"field":"v","type":"quantitative","scale":{"domain":[-0.5,1.5],"nice":false,"zero":false},"axis":null},"y":{"datum":-1,"type":"quantitative","scale":{"domain":[-1,1],"nice":false,"zero":false},"axis":null},"size":{"condition":{"test":"abs(datum.v*2-round(datum.v*2))<0.001","value":8},"value":4}}},
{"data":{"name":"t"},"transform":[{"filter":"datum.s=='s6'"}],"mark":{"type":"tick","orient":"vertical","color":"black","thickness":1,"opacity":1,"clip":true},
"encoding":{"x":{"field":"v","type":"quantitative","scale":{"domain":[-0.5,1.5],"nice":false,"zero":false},"axis":null},"y":{"datum":1,"type":"quantitative","scale":{"domain":[-1,1],"nice":false,"zero":false},"axis":null},"size":{"condition":{"test":"abs(datum.v*2-round(datum.v*2))<0.001","value":8},"value":4}}},
{"data":{"name":"t"},"transform":[{"filter":"datum.s=='s1'"}],"mark":{"type":"tick","orient":"horizontal","color":"black","thickness":1,"opacity":1,"clip":true},
"encoding":{"y":{"field":"v","type":"quantitative","scale":{"domain":[-1,1],"nice":false,"zero":false},"axis":null},"x":{"datum":-0.5,"type":"quantitative","scale":{"domain":[-0.5,1.5],"nice":false,"zero":false},"axis":null},"size":{"condition":{"test":"abs(datum.v*2-round(datum.v*2))<0.001","value":8},"value":4}}},
{"data":{"name":"t"},"transform":[{"filter":"datum.s=='s1'"}],"mark":{"type":"tick","orient":"horizontal","color":"black","thickness":1,"opacity":1,"clip":true},
"encoding":{"y":{"field":"v","type":"quantitative","scale":{"domain":[-1,1],"nice":false,"zero":false},"axis":null},"x":{"datum":1.5,"type":"quantitative","scale":{"domain":[-0.5,1.5],"nice":false,"zero":false},"axis":null},"size":{"condition":{"test":"abs(datum.v*2-round(datum.v*2))<0.001","value":8},"value":4}}}
]},
{"width":166.5,"height":170,"resolve":{"axis":{"x":"independent","y":"independent"}},
"layer":[
{"transform":[{"filter":"datum.p=='P'&&datum.k=='c'"}],"mark":{"type":"line","color":"#ff0000","strokeWidth":2,"clip":true},
"encoding":{"x":{"field":"x","type":"quantitative","scale":{"domain":[-0.18,1.25],"nice":false,"zero":false},"axis":{"orient":"bottom","title":"xₛ","values":[0,0.5,1],"format":".1f"}},
"y":{"field":"y","type":"quantitative","scale":{"domain":[-0.75,0.75],"nice":false,"zero":false},"axis":{"orient":"left","title":null,"values":[-0.5,0,0.5],"format":".1f"}},
"detail":{"field":"g"},"order":{"field":"o","type":"quantitative"}}},
{"transform":[{"filter":"datum.p=='P'&&datum.k=='l'"}],"mark":{"type":"line","color":"black","strokeWidth":1,"clip":true},
"encoding":{"x":{"field":"x","type":"quantitative","scale":{"domain":[-0.18,1.25],"nice":false,"zero":false},"axis":null},"y":{"field":"y","type":"quantitative","scale":{"domain":[-0.75,0.75],"nice":false,"zero":false},"axis":null},"detail":{"field":"g"},"order":{"field":"o","type":"quantitative"}}},
{"transform":[{"filter":"datum.p=='P'&&datum.k=='m'"}],"mark":{"type":"circle","color":"#0000ff","size":18,"opacity":1},
"encoding":{"x":{"field":"x","type":"quantitative","scale":{"domain":[-0.18,1.25],"nice":false,"zero":false},"axis":null},"y":{"field":"y","type":"quantitative","scale":{"domain":[-0.75,0.75],"nice":false,"zero":false},"axis":null}}},
{"transform":[{"filter":"datum.p=='P'&&datum.k=='t'"}],"mark":{"type":"text","font":"DejaVu Serif","fontSize":13,"align":"left","baseline":"alphabetic","color":"black"},
"encoding":{"x":{"field":"x","type":"quantitative","scale":{"domain":[-0.18,1.25],"nice":false,"zero":false},"axis":null},"y":{"field":"y","type":"quantitative","scale":{"domain":[-0.75,0.75],"nice":false,"zero":false},"axis":null},"text":{"field":"t"}}},
{"transform":[{"filter":"datum.p=='P'&&datum.k=='t'"}],"mark":{"type":"text","font":"DejaVu Serif","fontSize":9,"align":"left","baseline":"alphabetic","color":"black","dx":13,"dy":3},
"encoding":{"x":{"field":"x","type":"quantitative","scale":{"domain":[-0.18,1.25],"nice":false,"zero":false},"axis":null},"y":{"field":"y","type":"quantitative","scale":{"domain":[-0.75,0.75],"nice":false,"zero":false},"axis":null},"text":{"field":"n"}}},
{"transform":[{"filter":"datum.p=='P'&&datum.k=='h'"}],"mark":{"type":"text","font":"DejaVu Serif","fontSize":16.5,"align":"right","baseline":"alphabetic","color":"black"},
"encoding":{"x":{"field":"x","type":"quantitative","scale":{"domain":[-0.18,1.25],"nice":false,"zero":false},"axis":null},"y":{"field":"y","type":"quantitative","scale":{"domain":[-0.75,0.75],"nice":false,"zero":false},"axis":null},"text":{"field":"t"}}},
{"data":{"name":"t"},"transform":[{"filter":"datum.s=='s7'"}],"mark":{"type":"tick","orient":"vertical","color":"black","thickness":1,"opacity":1,"clip":true},
"encoding":{"x":{"field":"v","type":"quantitative","scale":{"domain":[-0.18,1.25],"nice":false,"zero":false},"axis":null},"y":{"datum":-0.75,"type":"quantitative","scale":{"domain":[-0.75,0.75],"nice":false,"zero":false},"axis":null},"size":{"condition":{"test":"abs(datum.v*2-round(datum.v*2))<0.001","value":8},"value":4}}},
{"data":{"name":"t"},"transform":[{"filter":"datum.s=='s7'"}],"mark":{"type":"tick","orient":"vertical","color":"black","thickness":1,"opacity":1,"clip":true},
"encoding":{"x":{"field":"v","type":"quantitative","scale":{"domain":[-0.18,1.25],"nice":false,"zero":false},"axis":null},"y":{"datum":0.75,"type":"quantitative","scale":{"domain":[-0.75,0.75],"nice":false,"zero":false},"axis":null},"size":{"condition":{"test":"abs(datum.v*2-round(datum.v*2))<0.001","value":8},"value":4}}},
{"data":{"name":"t"},"transform":[{"filter":"datum.s=='s8'"}],"mark":{"type":"tick","orient":"horizontal","color":"black","thickness":1,"opacity":1,"clip":true},
"encoding":{"y":{"field":"v","type":"quantitative","scale":{"domain":[-0.75,0.75],"nice":false,"zero":false},"axis":null},"x":{"datum":-0.18,"type":"quantitative","scale":{"domain":[-0.18,1.25],"nice":false,"zero":false},"axis":null},"size":{"condition":{"test":"abs(datum.v*2-round(datum.v*2))<0.001","value":8},"value":4}}},
{"data":{"name":"t"},"transform":[{"filter":"datum.s=='s8'"}],"mark":{"type":"tick","orient":"horizontal","color":"black","thickness":1,"opacity":1,"clip":true},
"encoding":{"y":{"field":"v","type":"quantitative","scale":{"domain":[-0.75,0.75],"nice":false,"zero":false},"axis":null},"x":{"datum":1.25,"type":"quantitative","scale":{"domain":[-0.18,1.25],"nice":false,"zero":false},"axis":null},"size":{"condition":{"test":"abs(datum.v*2-round(datum.v*2))<0.001","value":8},"value":4}}}
]}
],
"config":{
"view":{"stroke":"black","strokeWidth":1},
"axis":{"domain":false,"ticks":false,"grid":false,
"labelFont":"DejaVu Serif","labelFontSize":9,"labelColor":"black","labelFlush":false,"labelOverlap":false,"labelPadding":3,
"titleFont":"DejaVu Serif","titleFontStyle":"italic","titleFontWeight":"normal","titleFontSize":19,"titleColor":"black","titlePadding":3}
}
}
